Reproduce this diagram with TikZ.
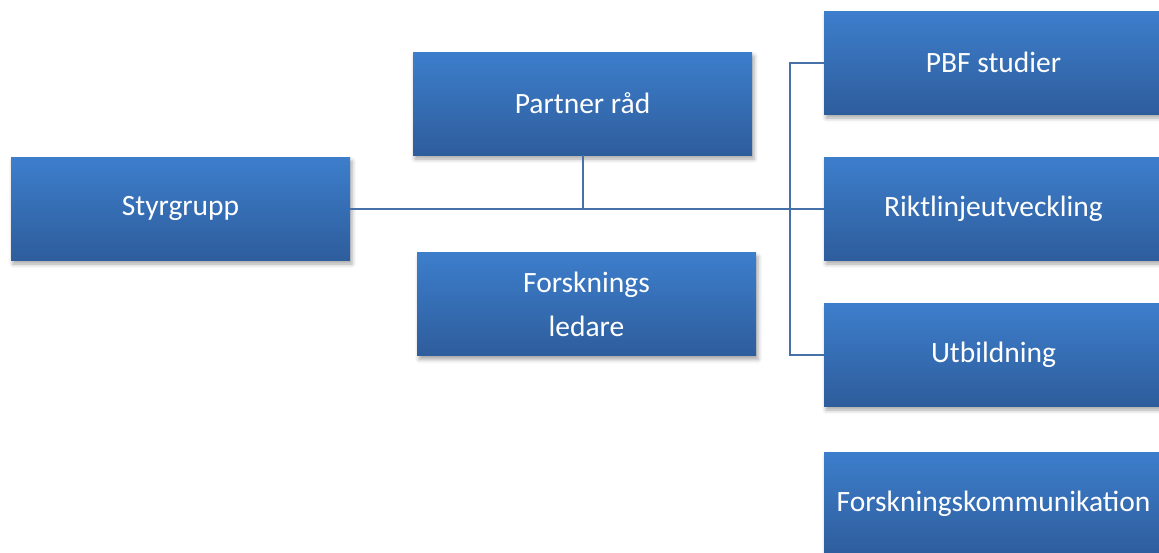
\documentclass[tikz,border=0pt]{standalone}
\usepackage{fontspec}
\setmainfont{Carlito}
\usetikzlibrary{shadows.blur}
\definecolor{boxtop}{HTML}{3D7ECC}
\definecolor{boxbottom}{HTML}{2E5D9C}
\definecolor{linkblue}{HTML}{4670A8}
\begin{document}
\begin{tikzpicture}[x=1pt,y=-1pt,
    orgbox/.style={rectangle,minimum width=339pt,minimum height=103pt,inner sep=0pt,
        top color=boxtop,bottom color=boxbottom,text=white,align=center,
        font=\fontsize{29.5}{44}\selectfont,
        blur shadow={shadow xshift=2pt,shadow yshift=-4pt,shadow blur radius=4pt,shadow opacity=35}},
    link/.style={draw=linkblue,line width=2pt}]
    \useasboundingbox (0,0) rectangle (1159,552);
    \node[orgbox] (styr) at (180.5,208.5) {Styrgrupp};
    \node[orgbox] (partner) at (582.5,103.5) {Partner råd};
    \node[orgbox] (ledare) at (586.5,304) {Forsknings\\ledare};
    \node[orgbox] (pbf) at (993.5,62.5) {PBF studier};
    \node[orgbox] (rikt) at (993.5,208.5) {Riktlinjeutveckling};
    \node[orgbox] (utb) at (993.5,354.5) {Utbildning};
    \node[orgbox] (komm) at (993.5,503.5) {Forskningskommunikation};
    \coordinate (bus) at (790,208.5);
    % connectors
    \draw[link] (styr.east) -- (rikt.west);
    \draw[link] (partner.south) -- (partner.south |- styr.east);
    \draw[link] (pbf.west) -| (bus) |- (utb.west);
\end{tikzpicture}
\end{document}
